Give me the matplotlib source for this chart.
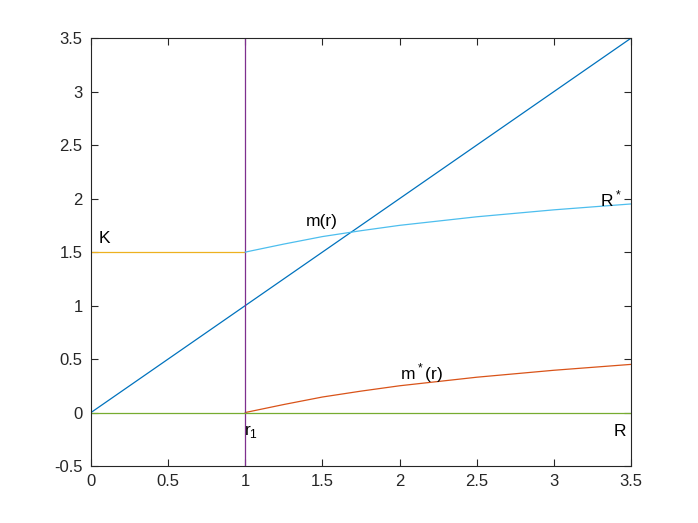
import matplotlib
matplotlib.use('Agg')
import matplotlib.pyplot as plt
from matplotlib.ticker import FuncFormatter

plt.rcParams['font.family'] = ['Liberation Sans', 'DejaVu Sans']
plt.rcParams['mathtext.fontset'] = 'custom'
plt.rcParams['mathtext.rm'] = 'Liberation Sans'

# данные
r_diag = [0, 3.5]
y_diag = [0, 3.5]
r_curve = [1, 1.25, 1.5, 1.75, 2, 2.5, 3, 3.5]
m_star = [0, 0.075, 0.145, 0.2, 0.25, 0.33, 0.395, 0.45]
m_r = [1.5, 1.575, 1.645, 1.7, 1.75, 1.83, 1.895, 1.95]
r_K = [0, 1]
y_K = [1.5, 1.5]
r1 = 1
y_zero = [0, 0]

fig = plt.figure(figsize=(6.98, 5.23), dpi=100)
ax = fig.add_axes([0.1304, 0.109, 0.7736, 0.818])

ax.plot(r_diag, y_diag, color='#0072BD', lw=0.9)
ax.plot(r_curve, m_star, color='#D95319', lw=0.9)
ax.plot(r_K, y_K, color='#EDB120', lw=0.9)
ax.plot([r1, r1], [-0.5, 3.5], color='#7E2F8E', lw=0.9)
ax.plot([0, 3.5], y_zero, color='#77AC30', lw=0.9)
ax.plot(r_curve, m_r, color='#4DBEEE', lw=0.9)

# подписи
fs = 12.5
ax.text(0.05, 1.63, 'K', fontsize=fs, va='center')
ax.text(1.39, 1.79, 'm(r)', fontsize=fs, va='center')
ax.text(3.3, 2.0, r'R$^*$', fontsize=fs, va='center')
ax.text(2.0, 0.37, r'm$^*$(r)', fontsize=fs, va='center')
ax.text(0.99, -0.18, r'r$_1$', fontsize=fs, va='center')
ax.text(3.39, -0.18, 'R', fontsize=fs, va='center')

ax.set_xlim(0, 3.5)
ax.set_ylim(-0.5, 3.5)
ax.set_xticks([0, 0.5, 1, 1.5, 2, 2.5, 3, 3.5])
ax.set_yticks([-0.5, 0, 0.5, 1, 1.5, 2, 2.5, 3, 3.5])
fmt = FuncFormatter(lambda v, p: '%g' % v)
ax.xaxis.set_major_formatter(fmt)
ax.yaxis.set_major_formatter(fmt)
ax.tick_params(direction='in', top=True, right=True, length=5, width=0.8,
               colors='#262626', labelsize=12, labelcolor='#262626', pad=6)
for s in ax.spines.values():
    s.set_color('#262626')
    s.set_linewidth(0.8)

plt.savefig('out.png', dpi=100)
